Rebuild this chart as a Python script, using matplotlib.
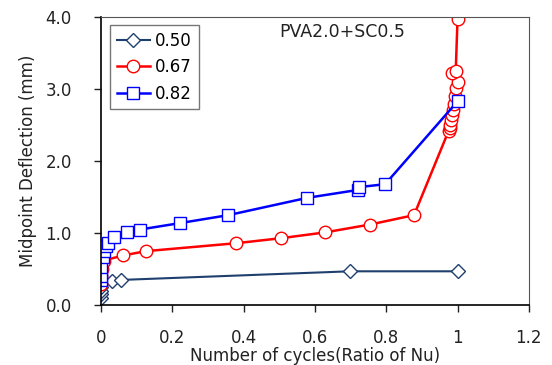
import matplotlib
matplotlib.use("Agg")
import matplotlib.pyplot as plt

# ratio 0.50
x50 = [0, 0, 0, 0, 0.03, 0.055, 0.698, 1.0]
y50 = [0.10, 0.15, 0.20, 0.25, 0.33, 0.35, 0.47, 0.47]

# ratio 0.67
x67 = [0, 0, 0.003, 0.008, 0.062, 0.126, 0.379, 0.505, 0.628, 0.755, 0.878,
       0.975, 0.978, 0.98, 0.982, 0.985, 0.988, 0.99, 0.993, 0.997, 1.0,
       0.985, 0.995, 1.0]
y67 = [0.30, 0.40, 0.50, 0.62, 0.69, 0.75, 0.86, 0.93, 1.01, 1.12, 1.25,
       2.42, 2.46, 2.50, 2.57, 2.64, 2.71, 2.80, 2.90, 3.01, 3.10,
       3.22, 3.25, 3.97]

# ratio 0.82
x82 = [0, 0, 0, 0.005, 0.008, 0.014, 0.02, 0.037, 0.072, 0.109, 0.222,
       0.357, 0.578, 0.72, 0.725, 0.797, 1.0]
y82 = [0.35, 0.40, 0.53, 0.67, 0.75, 0.82, 0.86, 0.94, 1.01, 1.05, 1.14,
       1.25, 1.49, 1.60, 1.64, 1.68, 2.83]

xticks = [0, 0.2, 0.4, 0.6, 0.8, 1.0, 1.2]
xticklabels = ["0", "0.2", "0.4", "0.6", "0.8", "1", "1.2"]
yticks = [0, 1, 2, 3, 4]
yticklabels = ["0.0", "1.0", "2.0", "3.0", "4.0"]

plt.rcParams['font.family'] = ['DejaVu Sans']

fig = plt.figure(figsize=(5.52, 3.65), dpi=100)
ax = fig.add_axes([0.183, 0.164, 0.775, 0.789])

ax.plot(x50, y50, color='#1f3f6f', lw=1.5, marker='D', ms=7,
        mfc='white', mec='#1f3f6f', mew=1.0, label='0.50')
ax.plot(x67, y67, color='#ff0000', lw=1.8, marker='o', ms=9,
        mfc='white', mec='#ff0000', mew=1.0, label='0.67')
ax.plot(x82, y82, color='#0000ff', lw=1.8, marker='s', ms=9,
        mfc='white', mec='#0000ff', mew=1.0, label='0.82')

ax.set_xlim(0, 1.2)
ax.set_ylim(0, 4.0)
ax.set_xticks(xticks)
ax.set_xticklabels(xticklabels)
ax.set_yticks(yticks)
ax.set_yticklabels(yticklabels)
ax.tick_params(direction='out', length=5, width=1, labelsize=12, colors='#222222')
ax.tick_params(axis='x', pad=12)
ax.tick_params(axis='y', pad=16)

for s in ['top', 'right']:
    ax.spines[s].set_color('#555555')
for s in ['left', 'bottom']:
    ax.spines[s].set_color('black')
    ax.spines[s].set_linewidth(1.2)

ax.set_xlabel("Number of cycles(Ratio of Nu)", fontsize=12, color='#222222')
ax.xaxis.set_label_coords(0.5, -0.145)
ax.set_ylabel("Midpoint Deflection (mm)", fontsize=12, labelpad=6, color='#222222')

ax.text(0.50, 3.72, "PVA2.0+SC0.5", fontsize=12.5, color='#222222')

leg = ax.legend(loc='upper left', bbox_to_anchor=(0.021, 0.972), fontsize=12,
                frameon=True, fancybox=False, edgecolor='#555555',
                handlelength=2.0, handletextpad=0.3, borderpad=0.4,
                labelspacing=0.5, borderaxespad=0)
leg.get_frame().set_linewidth(1.0)

fig.savefig("out.png", dpi=100)
